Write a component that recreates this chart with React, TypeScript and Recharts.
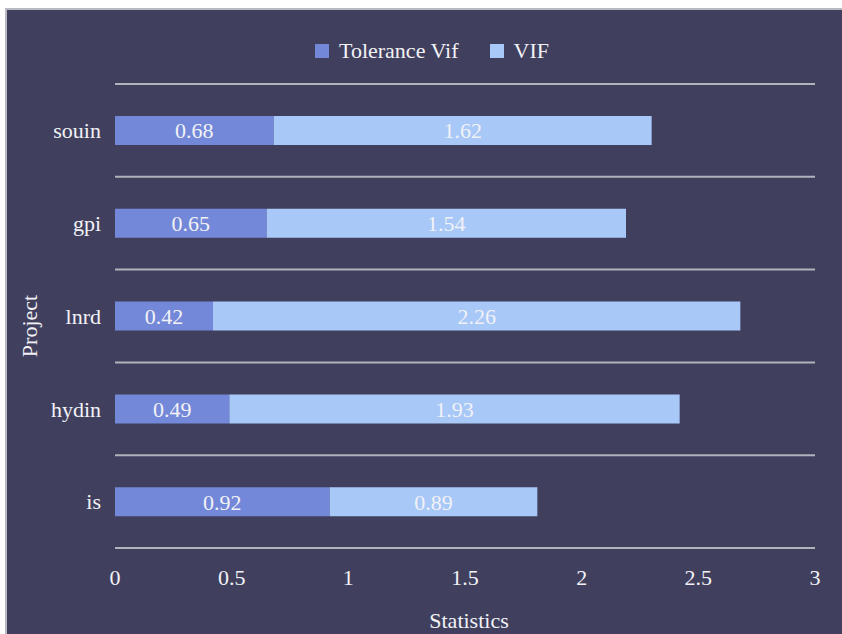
import React from 'react';
import {
  BarChart,
  Bar,
  XAxis,
  YAxis,
  CartesianGrid,
  Legend,
  LabelList,
} from 'recharts';

// Projects listed top to bottom
const projects = ['souin', 'gpi', 'lnrd', 'hydin', 'is'];
const toleranceVif = [0.68, 0.65, 0.42, 0.49, 0.92];
const vif = [1.62, 1.54, 2.26, 1.93, 0.89];
const xTicks = [0, 0.5, 1, 1.5, 2, 2.5, 3];

const seriesNames = ['Tolerance Vif', 'VIF'];
const seriesColors = ['#7388d8', '#a8c8f8'];

const data = projects.map((p, i) => ({
  project: p,
  tol: toleranceVif[i],
  vif: vif[i],
}));

const FONT = '"Liberation Serif", "Times New Roman", serif';
const TEXT = '#f2f2f6';
const BG = '#40405e';

const CHART_W = 835;
const CHART_H = 624;

const LegendContent = () => (
  <div style={{ display: 'flex', alignItems: 'center', fontFamily: FONT, fontSize: 22, lineHeight: '22px', color: TEXT, whiteSpace: 'nowrap' }}>
    {seriesNames.map((name, i) => (
      <div key={name} style={{ display: 'flex', alignItems: 'center', marginRight: i === 0 ? 31 : 0 }}>
        <span style={{ display: 'inline-block', width: 14, height: 14, background: seriesColors[i], marginRight: 10 }} />
        <span>{name}</span>
      </div>
    ))}
  </div>
);

// Grid lines sit on the band boundaries between projects
const bandLines = ({ offset }: any) => {
  const lines: number[] = [];
  for (let i = 0; i <= projects.length; i++) {
    lines.push(offset.top + (offset.height * i) / projects.length);
  }
  return lines;
};

const YTitle = (props: any) => {
  const vb = props.viewBox;
  const cx = vb.x + 30;
  const cy = vb.y + vb.height / 2 + 10;
  return (
    <text x={cx} y={cy} transform={`rotate(-90, ${cx}, ${cy})`} textAnchor="middle" fill={TEXT} fontFamily={FONT} fontSize={22}>
      Project
    </text>
  );
};

const XTitle = (props: any) => {
  const vb = props.viewBox;
  const cx = vb.x + vb.width / 2 + 4;
  const cy = vb.y + 80;
  return (
    <text x={cx} y={cy} textAnchor="middle" fill={TEXT} fontFamily={FONT} fontSize={22}>
      Statistics
    </text>
  );
};

export default function App() {
  return (
    <div
      style={{
        position: 'absolute',
        left: 5,
        top: 8,
        width: CHART_W,
        height: CHART_H,
        background: BG,
        borderTop: '2px solid #b9b9c2',
        borderLeft: '2px solid #b9b9c2',
        overflow: 'hidden',
      }}
    >
      <BarChart
        width={CHART_W}
        height={CHART_H}
        data={data}
        layout="vertical"
        margin={{ top: 74, right: 27, bottom: 0, left: 0 }}
        barSize={29}
      >
        <CartesianGrid
          vertical={false}
          horizontal
          stroke="#b2b2bc"
          strokeWidth={2}
          horizontalCoordinatesGenerator={bandLines}
        />
        <XAxis
          type="number"
          domain={[0, 3]}
          ticks={xTicks}
          axisLine={false}
          tickLine={false}
          tickSize={0}
          tickMargin={21}
          height={86}
          tick={{ fill: TEXT, fontFamily: FONT, fontSize: 22 }}
          interval={0}
          label={<XTitle />}
        />
        <YAxis
          type="category"
          dataKey="project"
          width={108}
          axisLine={false}
          tickLine={false}
          tickSize={0}
          tickMargin={14}
          tick={{ fill: TEXT, fontFamily: FONT, fontSize: 22 }}
          label={<YTitle />}
        />
        <Legend
          layout="horizontal"
          verticalAlign="middle"
          align="center"
          content={<LegendContent />}
          wrapperStyle={{ position: 'absolute', left: 308, top: 30, width: 'auto' }}
        />
        <Bar dataKey="tol" name={seriesNames[0]} stackId="s" fill={seriesColors[0]} isAnimationActive={false}>
          <LabelList dataKey="tol" position="center" fill={TEXT} fontFamily={FONT} fontSize={22} />
        </Bar>
        <Bar dataKey="vif" name={seriesNames[1]} stackId="s" fill={seriesColors[1]} isAnimationActive={false}>
          <LabelList dataKey="vif" position="center" fill={TEXT} fontFamily={FONT} fontSize={22} />
        </Bar>
      </BarChart>
    </div>
  );
}
